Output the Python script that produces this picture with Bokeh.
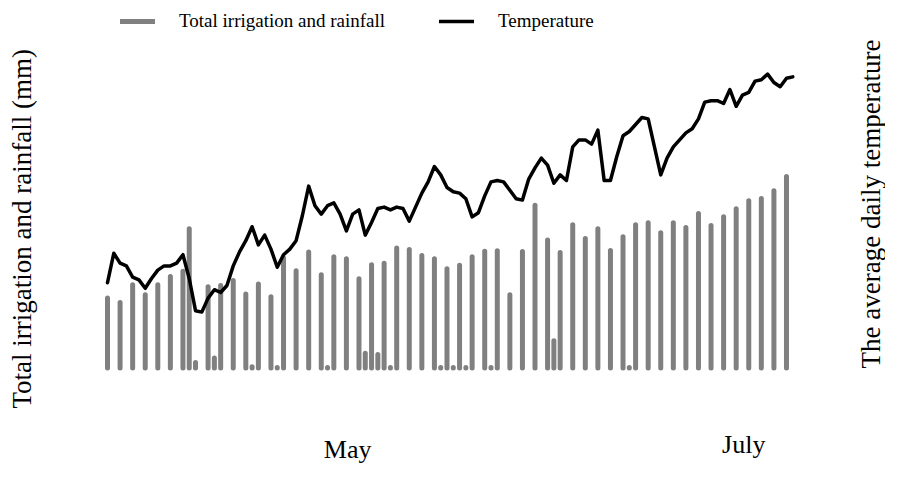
import math
from bokeh.plotting import figure
from bokeh.models import ColumnDataSource, Range1d, Legend, LegendItem, Label
from bokeh.embed import file_html
from bokeh.resources import INLINE

# ---------------- data (days counted from the first record) ----------------
rain_days = [0, 2, 4, 6, 8, 10, 12, 13, 14, 16, 17, 18, 20, 22, 23, 24, 26, 27, 28, 30,
             32, 34, 35, 36, 38, 40, 41, 42, 43, 44, 45, 46, 48, 50, 52, 53, 54, 55, 56, 57,
             58, 60, 61, 62, 64, 66, 68, 70, 71, 72, 74, 76, 78, 80, 82, 83, 84, 86, 88, 90,
             92, 94, 96, 98, 100, 102, 104, 106, 108]
rain_mm = [17.5, 16.4, 20.8, 18.3, 20.8, 22.9, 24.2, 34.8, 1.4, 20.3, 2.5, 20.6, 21.9, 18.5, 0.3, 21.0, 17.8, 0.1, 27.5, 24.3,
           29.0, 23.3, 0.1, 27.8, 27.3, 22.3, 3.7, 25.8, 3.4, 26.2, 0.1, 30.0, 29.6, 28.1, 27.3, 0.1, 24.8, 0.1, 25.7, 0.1,
           27.8, 29.2, 0.1, 29.3, 18.3, 29.1, 40.7, 32.0, 6.8, 28.9, 35.8, 32.4, 34.8, 29.4, 32.8, 0.1, 35.8, 36.3, 33.8, 36.3,
           35.1, 38.6, 35.6, 37.8, 39.8, 41.8, 42.4, 44.3, 47.9]

temp_days = list(range(110))
temp_c = [12.7, 14.8, 14.1, 13.9, 13.1, 12.9, 12.3, 13.0, 13.6, 13.9,
          13.9, 14.1, 14.7, 13.0, 10.7, 10.6, 11.6, 12.2, 12.0, 12.5,
          13.9, 14.9, 15.7, 16.7, 15.4, 16.1, 15.1, 13.8, 14.7, 15.1,
          15.7, 17.5, 19.6, 18.2, 17.6, 18.2, 18.4, 17.6, 16.4, 17.6,
          17.9, 16.1, 17.0, 18.0, 18.1, 17.9, 18.1, 18.0, 17.1, 18.1,
          19.1, 19.9, 21.0, 20.4, 19.5, 19.2, 19.1, 18.7, 17.4, 17.7,
          18.9, 19.9, 20.0, 19.9, 19.3, 18.7, 18.6, 20.1, 20.9, 21.6,
          21.1, 19.8, 20.4, 20.0, 22.4, 22.9, 22.9, 22.6, 23.6, 20.0,
          20.0, 21.7, 23.2, 23.5, 24.0, 24.5, 24.4, 22.4, 20.4, 21.6,
          22.4, 22.9, 23.4, 23.7, 24.4, 25.6, 25.7, 25.7, 25.5, 26.5,
          25.3, 26.1, 26.3, 27.1, 27.2, 27.6, 27.0, 26.7, 27.3, 27.4]

month_tick_days = [38.2, 101.2]
month_labels = ["May", "July"]

SERIF = "Liberation Serif"
W, H = 885, 464

rain_src = ColumnDataSource(dict(day=rain_days, mm=rain_mm, zero=[0] * len(rain_days)))
temp_src = ColumnDataSource(dict(day=temp_days, t=temp_c))

p = figure(width=W, height=H, output_backend="svg", toolbar_location=None,
           x_axis_location=None, y_axis_location=None, min_border=0,
           x_range=Range1d(-17.02, 123.75), y_range=Range1d(-24.125, 91.875))
p.extra_y_ranges = {"temp": Range1d(-0.286, 32.857)}
p.xgrid.visible = False
p.ygrid.visible = False
p.outline_line_color = None
p.background_fill_color = "white"
p.border_fill_color = "white"

r_bar = p.segment(x0="day", y0="zero", x1="day", y1="mm", source=rain_src,
                  line_color="#808080", line_width=5, line_cap="round")
r_temp = p.line(x="day", y="t", source=temp_src, y_range_name="temp",
                line_color="black", line_width=3.5, line_join="round", line_cap="round")

legend = Legend(items=[LegendItem(label="Total irrigation and rainfall", renderers=[r_bar]),
                       LegendItem(label="Temperature", renderers=[r_temp])],
                location=(120, 432), orientation="horizontal",
                glyph_width=35, glyph_height=20, label_height=20, label_standoff=24,
                spacing=54, padding=0, margin=0, border_line_color=None,
                background_fill_alpha=0, label_text_font=SERIF,
                label_text_font_size="19px", label_text_color="black")
p.add_layout(legend)

p.add_layout(Label(x=21, y=H - 408, x_units="screen", y_units="screen",
                   text="Total irrigation and rainfall (mm)", angle=math.pi / 2,
                   text_align="left", text_baseline="middle", text_font=SERIF,
                   text_font_size="27px", text_color="black"))
p.add_layout(Label(x=870, y=H - 368, x_units="screen", y_units="screen",
                   text="The average daily temperature", angle=math.pi / 2,
                   text_align="left", text_baseline="middle", text_font=SERIF,
                   text_font_size="27px", text_color="black"))

label_y = [1, 6]
for d, txt, ly in zip(month_tick_days, month_labels, label_y):
    p.add_layout(Label(x=d, y=ly, x_units="data", y_units="screen", text=txt,
                       text_align="center", text_baseline="bottom",
                       text_font=SERIF, text_font_size="26px", text_color="black"))

open("out.html", "w").write(file_html(p, INLINE))
